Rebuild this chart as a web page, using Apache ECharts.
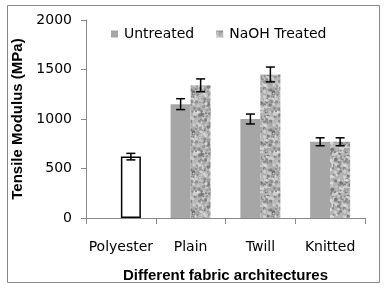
<!DOCTYPE html>
<html><head><meta charset="utf-8">
<script src="https://cdn.jsdelivr.net/npm/echarts@6/dist/echarts.min.js"></script>
<style>html,body{margin:0;padding:0;background:#fff}#c{width:384px;height:288px}</style>
</head><body><div id="c"></div>
<script>
var categories = ['Polyester', 'Plain', 'Twill', 'Knitted'];
var untreated = [null, 1150, 1000, 770];
var untreatedErr = [null, 55, 50, 40];
var treated = [620, 1340, 1450, 770];
var treatedErr = [33, 65, 75, 40];
var yTicks = [0, 500, 1000, 1500, 2000];

// texture pattern (styling only)
function makeTexture() {
  var N = 40;
  var cv = document.createElement('canvas');
  cv.width = N; cv.height = N;
  var ctx = cv.getContext('2d');
  ctx.fillStyle = '#b4b4b4';
  ctx.fillRect(0, 0, N, N);
  var s = 98765;
  function rnd() { s = (s * 1103515245 + 12345) % 2147483648; return s / 2147483648; }
  var shades = ['#707070', '#808080', '#909090', '#d8d8d8', '#cfcfcf', '#e6e6e6', '#a4a4a4', '#6a6a6a', '#dddddd'];
  for (var i = 0; i < 340; i++) {
    var x = rnd() * N, y = rnd() * N, r = 0.6 + rnd() * 1.3;
    ctx.fillStyle = shades[Math.floor(rnd() * shades.length)];
    ctx.globalAlpha = 0.75;
    for (var dx = -N; dx <= N; dx += N) for (var dy = -N; dy <= N; dy += N) {
      ctx.beginPath(); ctx.arc(x + dx, y + dy, r, 0, Math.PI * 2); ctx.fill();
    }
  }
  return cv;
}
var tex = makeTexture();

var chart = echarts.init(document.getElementById('c'), null, { renderer: 'canvas' });

var treatedData = treated.map(function (v, i) {
  if (i === 0) return { value: v, itemStyle: { color: '#ffffff', borderColor: '#000', borderWidth: 1.5 } };
  return v;
});

var errData = [];
untreated.forEach(function (v, i) { if (v != null) errData.push([i, v, untreatedErr[i], 0]); });
treated.forEach(function (v, i) { if (v != null) errData.push([i, v, treatedErr[i], 1]); });

var font = 'DejaVu Sans';
chart.setOption({
  animation: false,
  graphic: [{ type: 'rect', shape: { x: 7.5, y: 5.5, width: 372, height: 277 }, style: { fill: null, stroke: '#888', lineWidth: 1 }, silent: true }],
  legend: {
    left: 106, top: 22, itemWidth: 7, itemHeight: 7, itemGap: 22,
    icon: 'rect',
    textStyle: { fontFamily: font, fontSize: 14, color: '#000', padding: [0, 0, 0, 1] },
    data: ['Untreated', 'NaOH Treated']
  },
  grid: { left: 86, right: 19, top: 20, bottom: 69, containLabel: false },
  xAxis: {
    type: 'category', data: categories,
    name: 'Different fabric architectures', nameLocation: 'middle', nameGap: 50,
    nameTextStyle: { fontFamily: 'Liberation Sans', fontWeight: 'bold', fontSize: 15, color: '#000' },
    axisLine: { lineStyle: { color: '#888', width: 1 } },
    axisTick: { show: true, length: 6, interval: 0, lineStyle: { color: '#888' }, alignWithLabel: false },
    axisLabel: { fontFamily: font, fontSize: 14, color: '#000', margin: 22, interval: 0 }
  },
  yAxis: {
    type: 'value', min: 0, max: 2000, interval: 500,
    name: 'Tensile Modulus (MPa)', nameLocation: 'middle', nameGap: 57,
    nameTextStyle: { fontFamily: 'Liberation Sans', fontWeight: 'bold', fontSize: 15, color: '#000' },
    axisLine: { show: true, lineStyle: { color: '#888', width: 1 } },
    axisTick: { show: true, length: 5, lineStyle: { color: '#888' } },
    splitLine: { show: false },
    axisLabel: { fontFamily: font, fontSize: 14, color: '#000', margin: 14,
      formatter: function (v) { return yTicks.indexOf(v) >= 0 ? String(v) : ''; } }
  },
  series: [
    { name: 'Untreated', type: 'bar', data: untreated, barWidth: 20, barGap: '0%', itemStyle: { color: '#a6a6a6' } },
    { name: 'NaOH Treated', type: 'bar', data: treatedData, barWidth: 20, barGap: '0%', itemStyle: { color: { image: tex, repeat: 'repeat' } } },
    {
      type: 'custom', name: 'err', silent: true, z: 10,
      encode: { x: 0, y: 1 },
      data: errData,
      renderItem: function (params, api) {
        var cat = api.value(0), val = api.value(1), err = api.value(2), slot = api.value(3);
        var c = api.coord([cat, val]);
        var x = c[0] + (slot === 0 ? -10 : 10);
        var top = api.coord([cat, val + err])[1];
        var bot = api.coord([cat, val - err])[1];
        var w = 4.5;
        var st = { stroke: '#000', lineWidth: 1.5 };
        return { type: 'group', children: [
          { type: 'line', shape: { x1: x, y1: top, x2: x, y2: bot }, style: st },
          { type: 'line', shape: { x1: x - w, y1: top, x2: x + w, y2: top }, style: st },
          { type: 'line', shape: { x1: x - w, y1: bot, x2: x + w, y2: bot }, style: st }
        ] };
      }
    }
  ]
});
</script></body></html>
